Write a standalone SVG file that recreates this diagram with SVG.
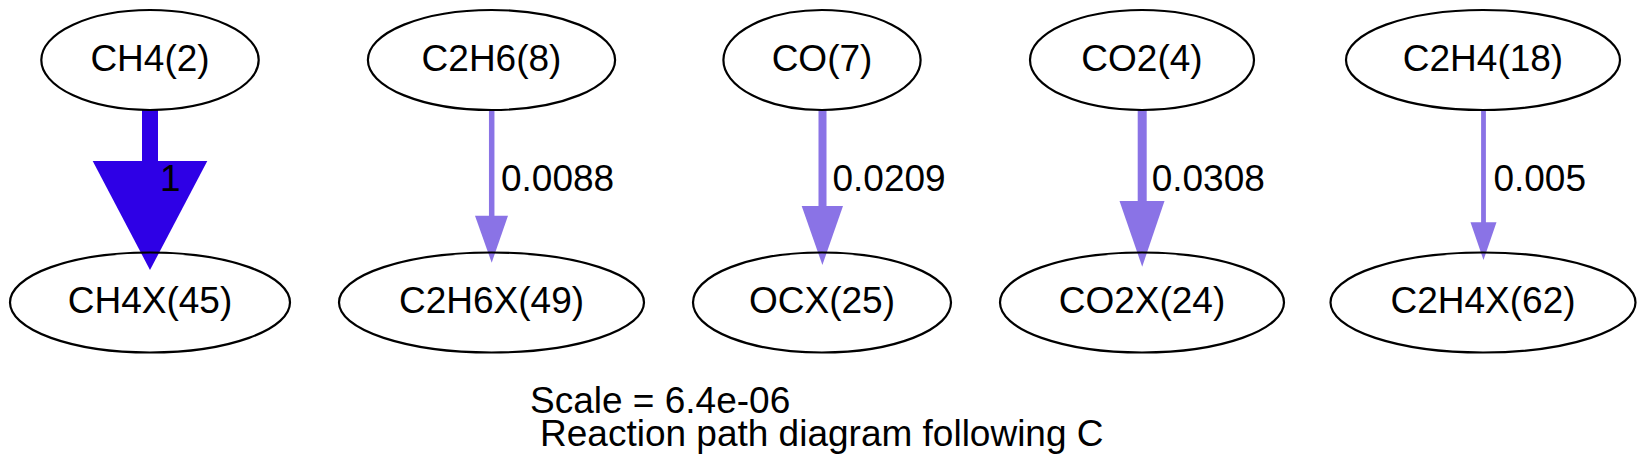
<svg xmlns="http://www.w3.org/2000/svg" width="1646" height="469" viewBox="0 0 1646 469">
<style>
.node ellipse{fill:none;stroke:#000;stroke-width:2.2}
text{font-family:"Liberation Sans",Arial,Helvetica,sans-serif;font-size:37px;fill:#000}
.node text{text-anchor:middle}
.strong{stroke:#2e00e6;fill:#2e00e6}
.weak{stroke:#8a73e6;fill:#8a73e6}
.edges polygon{stroke:none}
</style>
<rect width="1646" height="469" fill="#fff"/>
<g id="edges" class="edges">
  <g id="e_ch4">
    <line class="strong" x1="150" y1="110" x2="150" y2="162" stroke-width="16"/>
    <polygon class="strong" points="92.7,161 207.3,161 150,270"/>
    <text x="160" y="191">1</text>
  </g>
  <g id="e_c2h6">
    <line class="weak" x1="491.7" y1="110" x2="491.7" y2="217" stroke-width="5.5"/>
    <polygon class="weak" points="475,215.7 508,215.7 491.7,262.7"/>
    <text x="501" y="191">0.0088</text>
  </g>
  <g id="e_co">
    <line class="weak" x1="822.5" y1="110" x2="822.5" y2="207" stroke-width="8"/>
    <polygon class="weak" points="801.7,206 843,206 822.4,265"/>
    <text x="832.5" y="191">0.0209</text>
  </g>
  <g id="e_co2">
    <line class="weak" x1="1142.2" y1="110" x2="1142.2" y2="202" stroke-width="9"/>
    <polygon class="weak" points="1119.5,201 1164.5,201 1142.2,266.7"/>
    <text x="1151.7" y="191">0.0308</text>
  </g>
  <g id="e_c2h4">
    <line class="weak" x1="1483.5" y1="110" x2="1483.5" y2="223" stroke-width="4.8"/>
    <polygon class="weak" points="1470.5,222.3 1496.5,222.3 1483.5,260"/>
    <text x="1493.4" y="191">0.005</text>
  </g>
</g>
<g id="n_ch4" class="node"><ellipse cx="150" cy="60" rx="108.7" ry="50"/><text x="150" y="71">CH4(2)</text></g>
<g id="n_ch4x" class="node"><ellipse cx="150" cy="302.5" rx="140" ry="50"/><text x="150" y="313">CH4X(45)</text></g>
<g id="n_c2h6" class="node"><ellipse cx="491.5" cy="60" rx="123.6" ry="50"/><text x="491.5" y="71">C2H6(8)</text></g>
<g id="n_c2h6x" class="node"><ellipse cx="491.5" cy="302.5" rx="152.5" ry="50"/><text x="491.5" y="313">C2H6X(49)</text></g>
<g id="n_co" class="node"><ellipse cx="822" cy="60" rx="98.6" ry="50"/><text x="822" y="71">CO(7)</text></g>
<g id="n_ocx" class="node"><ellipse cx="822" cy="302.5" rx="129" ry="50"/><text x="822" y="313">OCX(25)</text></g>
<g id="n_co2" class="node"><ellipse cx="1142" cy="60" rx="112" ry="50"/><text x="1142" y="71">CO2(4)</text></g>
<g id="n_co2x" class="node"><ellipse cx="1142" cy="302.5" rx="142" ry="50"/><text x="1142" y="313">CO2X(24)</text></g>
<g id="n_c2h4" class="node"><ellipse cx="1483" cy="60" rx="137" ry="50"/><text x="1483" y="71">C2H4(18)</text></g>
<g id="n_c2h4x" class="node"><ellipse cx="1483" cy="302.5" rx="152.5" ry="50"/><text x="1483" y="313">C2H4X(62)</text></g>
<g id="title">
  <text x="530" y="413">Scale = 6.4e-06</text>
  <text x="540" y="446">Reaction path diagram following C</text>
</g>
</svg>
